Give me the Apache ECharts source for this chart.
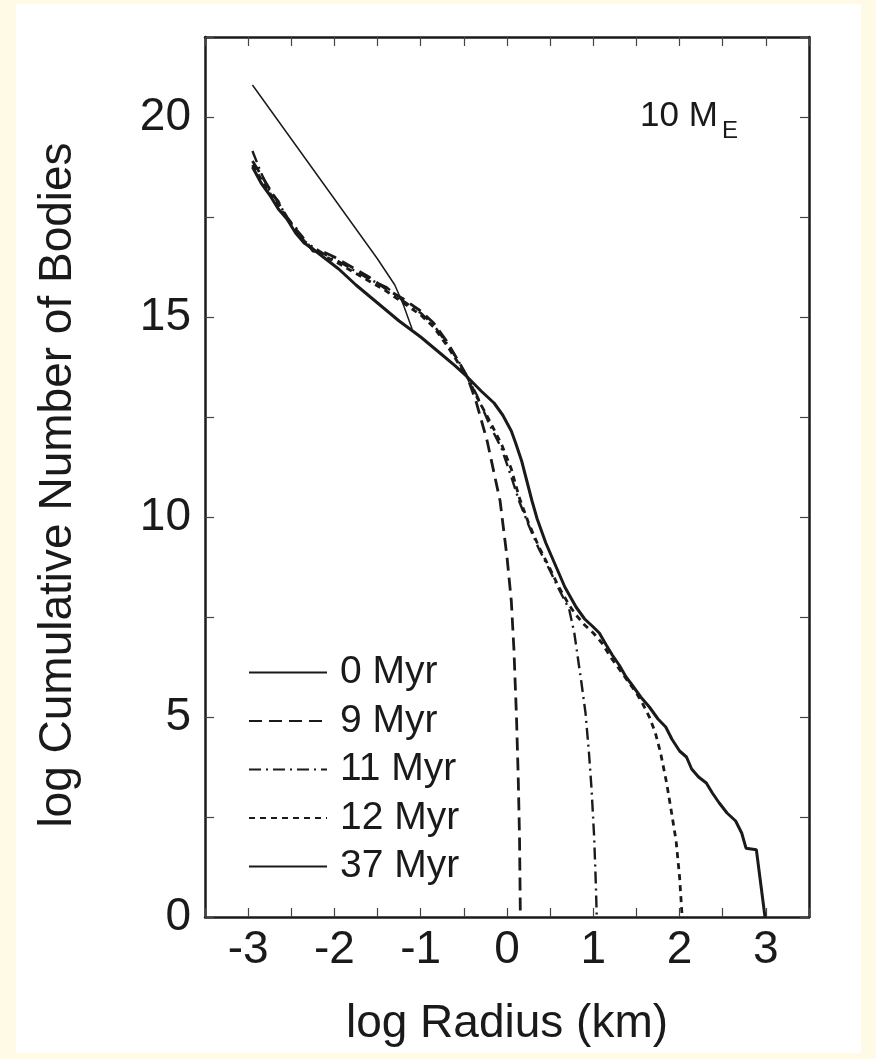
<!DOCTYPE html>
<html>
<head>
<meta charset="utf-8">
<script src="https://cdn.jsdelivr.net/npm/echarts@6.0.0/dist/echarts.min.js"></script>
<style>
html, body { margin: 0; padding: 0; background: #fffae6; }
#chart { width: 876px; height: 1059px; }
</style>
</head>
<body>
<div id="chart"></div>
<script>
// log Radius (km), log Cumulative Number of Bodies
const myr0 = [[-2.95, 20.8], [-2.5, 19.45], [-2.0, 17.95], [-1.5, 16.45], [-1.3, 15.8], [-1.2, 15.3], [-1.1, 14.7]]

const myr9 = [
  [-2.95, 18.9], [-2.85, 18.55], [-2.75, 18.2], [-2.65, 17.85], [-2.55, 17.5], [-2.45, 17.2],
  [-2.35, 16.95], [-2.25, 16.65], [-2.1, 16.6], [-2.0, 16.5], [-1.8, 16.25], [-1.6, 16.0],
  [-1.4, 15.7], [-1.2, 15.45], [-1.0, 15.15], [-0.85, 14.85], [-0.7, 14.4], [-0.55, 13.85],
  [-0.46, 13.5], [-0.36, 12.9], [-0.23, 11.9], [-0.13, 10.9], [-0.08, 10.4], [0.0, 9.0],
  [0.05, 7.9], [0.08, 6.7], [0.11, 5.0], [0.13, 3.5], [0.145, 2.0], [0.155, 0],
]

const myr11 = [
  [-2.95, 19.15], [-2.85, 18.6], [-2.75, 18.15], [-2.65, 17.9], [-2.55, 17.45], [-2.45, 17.25],
  [-2.35, 16.9], [-2.25, 16.75], [-2.1, 16.55], [-2.0, 16.45], [-1.8, 16.2], [-1.6, 15.95],
  [-1.4, 15.75], [-1.2, 15.4], [-1.0, 15.1], [-0.85, 14.8], [-0.7, 14.35], [-0.55, 13.85],
  [-0.46, 13.5], [-0.35, 13.05], [-0.2, 12.3], [-0.06, 11.7], [0.05, 11.0], [0.14, 10.4],
  [0.25, 9.8], [0.37, 9.2], [0.5, 8.65], [0.6, 8.2], [0.72, 7.7], [0.78, 7.1], [0.82, 6.5],
  [0.86, 5.9], [0.91, 5.1], [0.95, 4.1], [0.98, 3.2], [1.01, 2.0], [1.03, 0.8], [1.04, 0],
]

const myr12 = [
  [-2.95, 18.8], [-2.85, 18.45], [-2.75, 18.1], [-2.65, 17.75], [-2.55, 17.5], [-2.45, 17.15],
  [-2.35, 16.85], [-2.25, 16.7], [-2.1, 16.5], [-2.0, 16.4], [-1.8, 16.15], [-1.6, 15.9],
  [-1.4, 15.65], [-1.2, 15.35], [-1.0, 15.05], [-0.85, 14.75], [-0.7, 14.3], [-0.55, 13.8],
  [-0.46, 13.5], [-0.35, 13.0], [-0.2, 12.4], [-0.06, 11.8], [0.05, 11.2], [0.14, 10.5],
  [0.25, 9.85], [0.37, 9.25], [0.5, 8.7], [0.6, 8.25], [0.72, 7.8], [0.8, 7.55], [0.9, 7.3],
  [1.0, 7.1], [1.1, 6.85], [1.2, 6.5], [1.3, 6.2], [1.4, 5.9], [1.5, 5.6], [1.58, 5.3],
  [1.65, 5.0], [1.72, 4.6], [1.78, 4.1], [1.85, 3.35], [1.9, 2.7], [1.96, 1.9], [2.0, 1.0], [2.03, 0],
]

const myr37 = [
  [-2.95, 18.75], [-2.85, 18.35], [-2.75, 18.05], [-2.65, 17.7], [-2.55, 17.45], [-2.45, 17.1],
  [-2.35, 16.85], [-2.25, 16.7], [-2.1, 16.45], [-1.95, 16.2], [-1.75, 15.8], [-1.5, 15.35],
  [-1.25, 14.9], [-1.0, 14.5], [-0.75, 14.05], [-0.6, 13.78], [-0.46, 13.5], [-0.3, 13.15],
  [-0.15, 12.85], [-0.05, 12.55], [0.05, 12.15], [0.1, 11.85], [0.17, 11.4], [0.23, 10.9],
  [0.29, 10.4], [0.35, 9.95], [0.45, 9.35], [0.57, 8.75], [0.67, 8.25], [0.8, 7.75], [0.9, 7.45],
  [1.0, 7.25], [1.07, 7.1], [1.15, 6.8], [1.22, 6.55], [1.3, 6.3], [1.38, 6.0], [1.45, 5.8],
  [1.55, 5.5], [1.65, 5.25], [1.75, 4.95], [1.84, 4.75], [1.91, 4.45], [2.0, 4.15], [2.08, 4.0],
  [2.14, 3.7], [2.22, 3.5], [2.31, 3.35], [2.38, 3.1], [2.46, 2.85], [2.55, 2.6], [2.65, 2.4],
  [2.72, 2.1], [2.77, 1.72], [2.89, 1.68], [2.99, 0],
]

const seriesNames = ['0 Myr', '9 Myr', '11 Myr', '12 Myr', '37 Myr']
const xTicks = [-3, -2, -1, 0, 1, 2, 3]
const yTicks = [0, 5, 10, 15, 20]

const font = 'Liberation Sans, Arial, Helvetica, sans-serif'
const ink = '#1a1a1a'

const lineStyles = [
  { width: 1.5, type: 'solid' },
  { width: 2.8, type: [13, 7] },
  { width: 2.4, type: [12, 5, 2, 5] },
  { width: 2.8, type: [6, 5] },
  { width: 3, type: 'solid' },
]

const frameAxis = {
  axisLine: { show: true, onZero: false, lineStyle: { color: ink, width: 2.5 } },
  axisTick: { show: true, inside: true, length: 9, lineStyle: { color: '#444', width: 1.2 } },
  splitLine: { show: false },
}

const chart = echarts.init(document.getElementById('chart'))
chart.setOption({
  animation: false,
  backgroundColor: '#fffae6',
  grid: { left: 205, right: 67, top: 37, bottom: 142 },
  graphic: [
    { type: 'rect', z: -10, silent: true, shape: { x: 16, y: 4, width: 845, height: 1049 }, style: { fill: '#ffffff' } },
    { type: 'text', left: 640, top: 99, style: { text: '10 M', font: '35px ' + font, fill: ink } },
    { type: 'text', left: 722, top: 119, style: { text: 'E', font: '24px ' + font, fill: ink } },
  ],
  legend: {
    orient: 'vertical',
    left: 248,
    top: 653,
    padding: 0,
    itemWidth: 78,
    itemHeight: 14,
    itemGap: 9.5,
    data: seriesNames,
    itemStyle: { opacity: 0 },
    textStyle: { fontFamily: font, fontSize: 39, lineHeight: 39, color: ink, padding: [0, 0, 0, 8] },
  },
  xAxis: [
    {
      type: 'value', min: -3.5, max: 3.5, interval: 0.5,
      name: 'log Radius (km)', nameLocation: 'middle', nameGap: 84,
      nameTextStyle: { fontFamily: font, fontSize: 46, color: ink },
      axisLabel: {
        fontFamily: font, fontSize: 46, color: ink, margin: 10,
        formatter: (v) => (xTicks.includes(v) ? String(v) : ''),
      },
      ...frameAxis,
    },
    {
      type: 'value', position: 'top', min: -3.5, max: 3.5, interval: 0.5,
      axisLabel: { show: false },
      ...frameAxis,
    },
  ],
  yAxis: [
    {
      type: 'value', min: 0, max: 22, interval: 2.5,
      name: 'log Cumulative Number of Bodies', nameLocation: 'middle', nameGap: 124,
      nameTextStyle: { fontFamily: font, fontSize: 46, color: ink, padding: [0, 16, 0, 0] },
      axisLabel: {
        fontFamily: font, fontSize: 46, color: ink, margin: 14,
        formatter: (v) => (yTicks.includes(v) ? String(v) : ''),
      },
      ...frameAxis,
    },
    {
      type: 'value', position: 'right', min: 0, max: 22, interval: 2.5,
      axisLabel: { show: false },
      ...frameAxis,
    },
  ],
  series: [myr0, myr9, myr11, myr12, myr37].map((points, i) => ({
    name: seriesNames[i],
    type: 'line',
    data: points,
    symbol: 'none',
    color: ink,
    lineStyle: { color: ink, ...lineStyles[i] },
    emphasis: { disabled: true },
    z: 5 - i,
  })),
})
</script>
</body>
</html>
